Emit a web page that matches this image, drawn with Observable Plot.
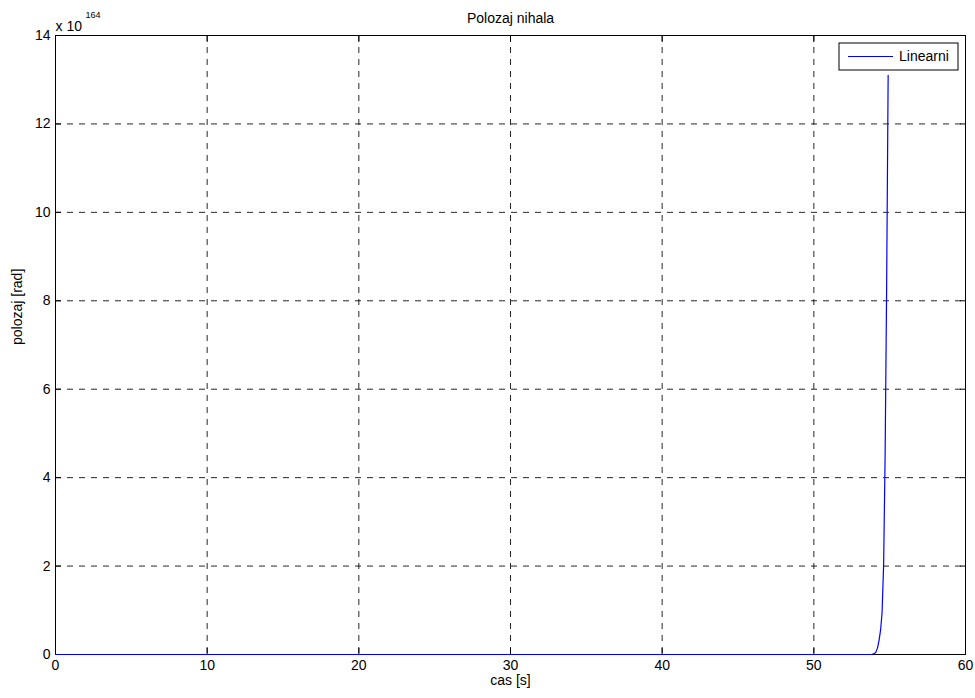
<!DOCTYPE html>
<html>
<head>
<meta charset="utf-8">
<script src="https://cdn.jsdelivr.net/npm/d3@7"></script>
<script src="https://cdn.jsdelivr.net/npm/@observablehq/plot@0.6"></script>
<style>
  html, body { margin: 0; padding: 0; background: #fff; }
  svg { display: block; }
</style>
</head>
<body>
<div id="chart"></div>
<script>
// Time (s) and position (units of 1e164 rad)
const time = [0, 10, 20, 30, 40, 50, 53.8, 54.0, 54.1, 54.2, 54.3, 54.4, 54.5, 54.6, 54.7, 54.8, 54.9];
const position = [0, 0, 0, 0, 0, 0, 0, 0.02, 0.06, 0.15, 0.32, 0.55, 0.95, 2.0, 4.5, 8.3, 13.1];
const xTicks = [0, 10, 20, 30, 40, 50, 60];
const yTicks = [0, 2, 4, 6, 8, 10, 12, 14];
const seriesName = "Linearni";

const data = time.map((t, i) => ({t, v: position[i]}));
const font = "Liberation Sans, Arial, sans-serif";

const noText = () => "";
const chart = Plot.plot({
  width: 975,
  height: 698,
  marginLeft: 55,
  marginRight: 10,
  marginTop: 35,
  marginBottom: 44,
  style: {fontFamily: font, fontSize: "14px", background: "#fff", color: "#000"},
  x: {domain: [0, 60]},
  y: {domain: [0, 14]},
  marks: [
    Plot.gridX(xTicks.slice(1, -1), {stroke: "#000", strokeOpacity: 0.85, strokeDasharray: "6,6"}),
    Plot.gridY(yTicks.slice(1, -1), {stroke: "#000", strokeOpacity: 0.85, strokeDasharray: "6,6"}),
    Plot.axisX({ticks: xTicks, tickSize: 0, tickPadding: 6, label: null, fontSize: 14}),
    Plot.axisY({ticks: yTicks, tickSize: 0, tickPadding: 5, label: null, fontSize: 14}),
    Plot.frame({stroke: "#000", strokeWidth: 1}),
    Plot.axisX({ticks: xTicks, tickSize: -6, tickFormat: noText, label: null}),
    Plot.axisX({ticks: xTicks, anchor: "top", tickSize: -6, tickFormat: noText, label: null}),
    Plot.axisY({ticks: yTicks, tickSize: -6, tickFormat: noText, label: null}),
    Plot.axisY({ticks: yTicks, anchor: "right", tickSize: -6, tickFormat: noText, label: null}),
    Plot.line(data, {x: "t", y: "v", stroke: "#0000ff", strokeWidth: 1.2}),
    Plot.text(["Polozaj nihala"], {frameAnchor: "top", dy: -22, fontSize: 14}),
    Plot.text(["cas [s]"], {frameAnchor: "bottom", dy: 30, fontSize: 14}),
    Plot.text(["polozaj [rad]"], {frameAnchor: "left", rotate: -90, dx: -38, fontSize: 14}),
    Plot.text(["x 10"], {frameAnchor: "top-left", textAnchor: "start", dx: 0, dy: -14, fontSize: 14}),
    Plot.text(["164"], {frameAnchor: "top-left", textAnchor: "start", dx: 30, dy: -24, fontSize: 9})
  ]
});

// Legend box (top-right, inside the axes)
const svg = d3.select(chart);
const lg = svg.append("g").attr("transform", "translate(839,43)");
lg.append("rect").attr("width", 119).attr("height", 27)
  .attr("fill", "#fff").attr("stroke", "#000").attr("stroke-width", 1);
lg.append("line").attr("x1", 9).attr("x2", 54).attr("y1", 13.5).attr("y2", 13.5)
  .attr("stroke", "#0000ff").attr("stroke-width", 1);
lg.append("text").attr("x", 60).attr("y", 13.5).attr("dy", "0.35em")
  .attr("text-anchor", "start")
  .attr("font-family", font).attr("font-size", 14).text(seriesName);

document.getElementById("chart").appendChild(chart);
</script>
</body>
</html>
